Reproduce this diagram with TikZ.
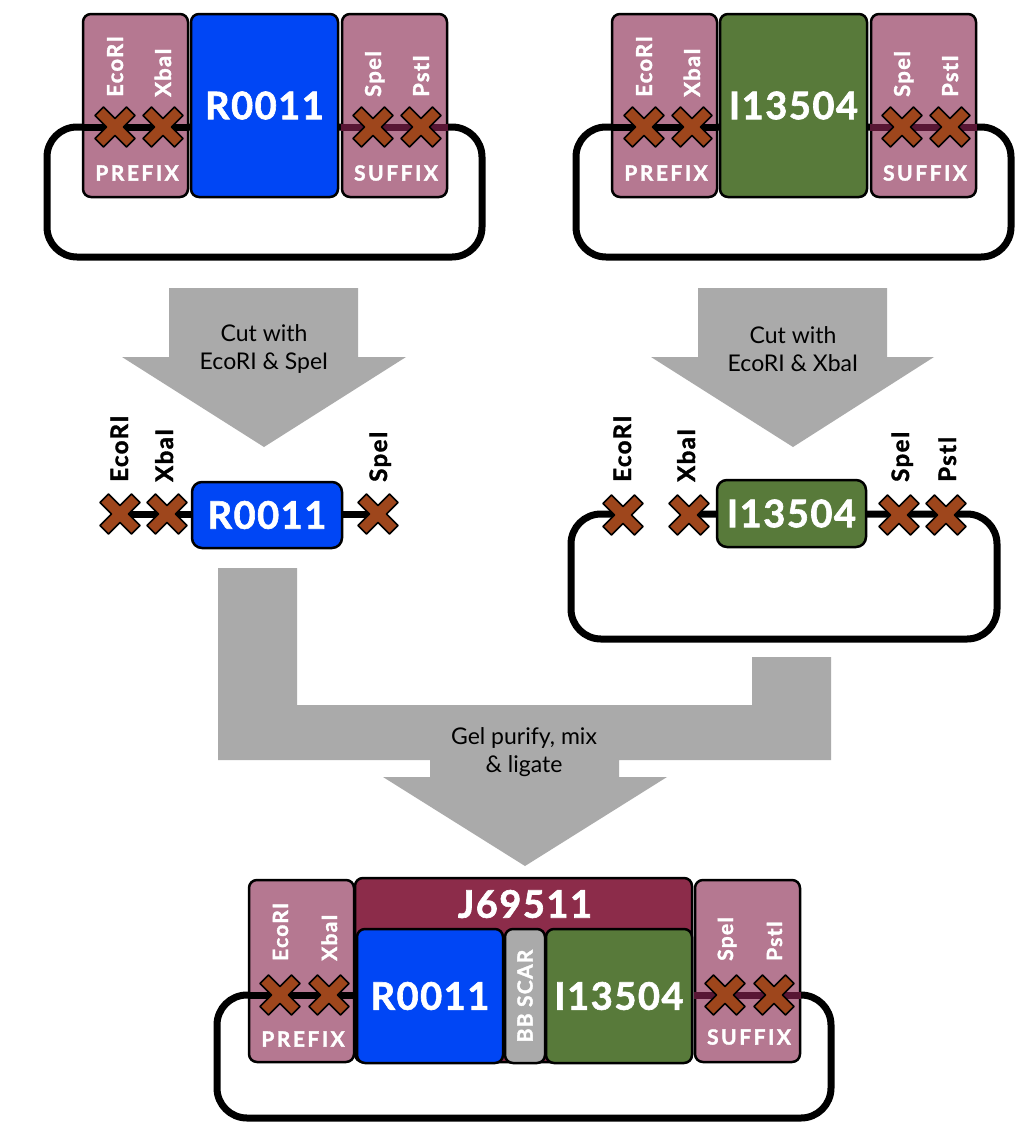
\documentclass[tikz,border=0pt]{standalone}
\usepackage{fontspec}
\setmainfont{Lato}[BoldFeatures={FakeBold=1.6}]
\definecolor{fixpink}{RGB}{181,120,145}
\definecolor{partblue}{RGB}{0,70,245}
\definecolor{partgreen}{RGB}{88,122,58}
\definecolor{partmaroon}{RGB}{140,44,74}
\definecolor{cutbrown}{RGB}{158,70,28}
\definecolor{sufline}{RGB}{88,22,52}
\definecolor{arrowgrey}{RGB}{170,170,170}
\newcommand{\fsz}[1]{\fontsize{#1}{#1}\selectfont}
\newcommand{\lsp}[1]{\addfontfeatures{LetterSpace=#1}}
\tikzset{
  boxbase/.style={draw=black, line width=2.5pt, rounded corners=8pt, inner sep=0pt},
  fixbox/.style={boxbase, fill=fixpink},
  bigfont/.style={font=\bfseries\fsz{38}\lsp{4}},
  bluebox/.style={boxbase, fill=partblue, text=white, bigfont},
  greenbox/.style={boxbase, fill=partgreen, text=white, bigfont},
  maroonbox/.style={boxbase, fill=partmaroon, text=white, bigfont},
  scarbox/.style={boxbase, fill=arrowgrey},
  loopline/.style={line width=7pt, rounded corners=30pt},
  sufseg/.style={line width=7pt, draw=sufline},
  preseg/.style={line width=7pt, draw=black},
  sitew/.style={rotate=90, anchor=base west, inner sep=0pt, text=white, font=\bfseries\fsz{22}\lsp{6}},
  siteb/.style={rotate=90, anchor=base west, inner sep=0pt, text=black, font=\bfseries\fsz{24}\lsp{6}},
  sitewb/.style={rotate=90, anchor=base west, inner sep=0pt, text=white, font=\bfseries\fsz{21}\lsp{6}},
  fixlabel/.style={text=white, inner sep=0pt, font=\bfseries\fsz{21}\lsp{12}},
  arrowtext/.style={align=center, inner sep=0pt, font=\fsz{23}, text=black},
  bigarrow/.style={fill=arrowgrey, draw=none},
  xcut/.pic={\draw[fill=cutbrown, line width=1.5pt, line join=round]
    (8.5,0) -- (20,11.5) -- (11.5,20) -- (0,8.5) -- (-11.5,20) -- (-20,11.5)
    -- (-8.5,0) -- (-20,-11.5) -- (-11.5,-20) -- (0,-8.5) -- (11.5,-20)
    -- (20,-11.5) -- cycle;}
}
\begin{document}
\begin{tikzpicture}[x=1pt, y=-1pt]
\useasboundingbox (0,0) rectangle (1036,1122);
\fill[white] (0,0) rectangle (1036,1122);

% ================= top-left plasmid =================
\draw[loopline] (200,127) -- (47,127) -- (47,257) -- (482,257) -- (482,127) -- (330,127);
\node[fixbox, minimum width=105pt, minimum height=183pt] (preA) at (135.5,105.5) {};
\node[fixbox, minimum width=105pt, minimum height=183pt] (sufA) at (394.5,105.5) {};
\draw[preseg] (preA.west |- 0,127) -- (preA.east |- 0,127);
\draw[sufseg] (sufA.west |- 0,127) -- (sufA.east |- 0,127);
\node[bluebox, minimum width=147pt, minimum height=183pt] (partA) at (264.5,105.5) {R0011};
\pic at (115,127) {xcut};
\pic at (163,127) {xcut};
\pic at (373,127) {xcut};
\pic at (421,127) {xcut};
\node[sitew] (ecoA) at (123,97) {EcoRI};
\node[sitew] (xbaA) at (171,97) {XbaI};
\node[sitew] (speA) at (381,97) {SpeI};
\node[sitew] (pstA) at (429,97) {PstI};
\node[fixlabel] (prefA) at (137,173) {PREFIX};
\node[fixlabel] (suffA) at (396,173) {SUFFIX};

% ================= top-right plasmid =================
\draw[loopline] (729,127) -- (576,127) -- (576,257) -- (1011,257) -- (1011,127) -- (859,127);
\node[fixbox, minimum width=105pt, minimum height=183pt] (preB) at (664.5,105.5) {};
\node[fixbox, minimum width=105pt, minimum height=183pt] (sufB) at (923.5,105.5) {};
\draw[preseg] (preB.west |- 0,127) -- (preB.east |- 0,127);
\draw[sufseg] (sufB.west |- 0,127) -- (sufB.east |- 0,127);
\node[greenbox, minimum width=147pt, minimum height=183pt] (partB) at (793.5,105.5) {I13504};
\pic at (644,127) {xcut};
\pic at (692,127) {xcut};
\pic at (902,127) {xcut};
\pic at (950,127) {xcut};
\node[sitew] (ecoB) at (652,97) {EcoRI};
\node[sitew] (xbaB) at (700,97) {XbaI};
\node[sitew] (speB) at (910,97) {SpeI};
\node[sitew] (pstB) at (958,97) {PstI};
\node[fixlabel] (prefB) at (666,173) {PREFIX};
\node[fixlabel] (suffB) at (925,173) {SUFFIX};

% ================= cut arrows =================
\fill[bigarrow] (169,288) -- (358,288) -- (358,357) -- (406,357) -- (264,447)
  -- (122,357) -- (169,357) -- cycle;
\node[arrowtext] (cutA) at (264,349) {Cut with\\[5pt]EcoRI \& SpeI};
\fill[bigarrow] (698,288) -- (887,288) -- (887,357) -- (934,357) -- (793,447)
  -- (651,357) -- (698,357) -- cycle;
\node[arrowtext] (cutB) at (793,349) {Cut with\\[5pt]EcoRI \& XbaI};

% ================= middle-left fragment =================
\draw[preseg] (112,514) -- (380,514);
\node[bluebox, rounded corners=10pt, minimum width=150pt, minimum height=66pt] (fragA) at (267,515) {R0011};
\pic at (120,514) {xcut};
\pic at (167,514) {xcut};
\pic at (378,514) {xcut};
\node[siteb] (ecoC) at (128,482) {EcoRI};
\node[siteb] (xbaC) at (173,482) {XbaI};
\node[siteb] (speC) at (387,482) {SpeI};

% ================= middle-right opened plasmid =================
\draw[loopline] (622,514) -- (571,514) -- (571,639) -- (997,639) -- (997,514) -- (690,514);
\node[greenbox, rounded corners=10pt, minimum width=149pt, minimum height=67pt] (fragB) at (791.5,513.5) {I13504};
\pic at (623,515) {xcut};
\pic at (689,515) {xcut};
\pic at (899,515) {xcut};
\pic at (946,515) {xcut};
\node[siteb] (ecoD) at (631,482) {EcoRI};
\node[siteb] (xbaD) at (695,482) {XbaI};
\node[siteb] (speD) at (909,482) {SpeI};
\node[siteb] (pstD) at (956,482) {PstI};

% ================= gel purify arrow =================
\fill[bigarrow] (218,568) -- (297,568) -- (297,705) -- (752,705) -- (752,657)
  -- (831,657) -- (831,760) -- (619,760) -- (619,777) -- (667,777) -- (525,866)
  -- (383,777) -- (430,777) -- (430,760) -- (218,760) -- cycle;
\node[arrowtext] (gel) at (524,752) {Gel purify, mix\\[5pt]\& ligate};

% ================= bottom plasmid =================
\draw[loopline] (260,995) -- (217,995) -- (217,1118) -- (831,1118) -- (831,995) -- (790,995);
\node[fixbox, minimum width=105pt, minimum height=182pt] (preE) at (301.5,971) {};
\node[fixbox, minimum width=105pt, minimum height=182pt] (sufE) at (747.5,971) {};
\draw[preseg] (preE.west |- 0,995) -- (preE.east |- 0,995);
\draw[sufseg] (sufE.west |- 0,995) -- (sufE.east |- 0,995);
\node[maroonbox, minimum width=337pt, minimum height=184pt] (comp) at (523.5,970) {};
\node[text=white, bigfont, inner sep=0pt] (compT) at (525,904) {J69511};
\node[bluebox, minimum width=146pt, minimum height=134pt] (partE1) at (430,996) {R0011};
\node[scarbox, minimum width=40pt, minimum height=134pt] (scar) at (525,996) {};
\node[rotate=90, text=white, font=\bfseries\fsz{21}\lsp{6}, inner sep=0pt] (scarT) at (scar.center) {BB SCAR};
\node[greenbox, minimum width=146pt, minimum height=134pt] (partE2) at (619,996) {I13504};
\pic at (280,995) {xcut};
\pic at (329,995) {xcut};
\pic at (725,995) {xcut};
\pic at (774,995) {xcut};
\node[sitewb] (ecoE) at (288,961) {EcoRI};
\node[sitewb] (xbaE) at (337,961) {XbaI};
\node[sitewb] (speE) at (733,961) {SpeI};
\node[sitewb] (pstE) at (782,961) {PstI};
\node[fixlabel] (prefE) at (303,1039) {PREFIX};
\node[fixlabel] (suffE) at (749,1037) {SUFFIX};
\end{tikzpicture}
\end{document}
